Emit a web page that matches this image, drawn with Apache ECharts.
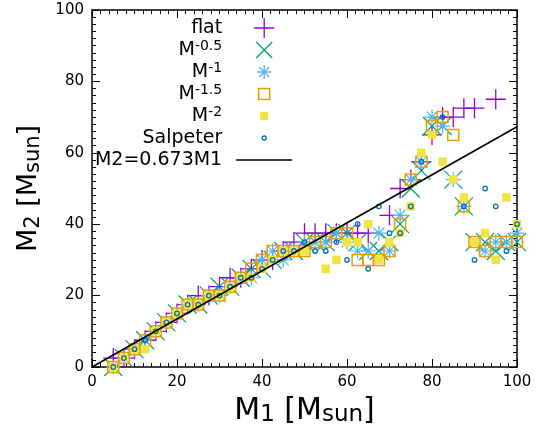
<!DOCTYPE html>
<html>
<head>
<meta charset="utf-8">
<script src="https://cdn.jsdelivr.net/npm/echarts@6/dist/echarts.min.js"></script>
<style>html,body{margin:0;padding:0;background:#fff}#c{width:543px;height:432px}</style>
</head>
<body>
<div id="c"></div>
<script>
// binned M1 values (x)
var xBins = [5,7.5,10,12.5,15,17.5,20,22.5,25,27.5,30,32.5,35,37.5,40,42.5,45,47.5,50,
             52.5,55,57.5,60,62.5,65,67.5,70,72.5,75,77.5,80,82.5,85,87.5,90,92.5,95,97.5,100];
// M2 values per series (null = no point)
var yFlat  = [2.5,2.5,5,7.5,10,12.5,15,17.5,20,20,22.5,25,25,27.5,30,30,32.5,35,37.5,
              37.5,37.5,37.5,37.5,37.5,37.5,null,42.5,50,52.5,57.5,65,70,70,72.5,72.5,null,75,null,null];
var yM05   = [0,2.5,5,7.5,10,12.5,15,17.5,17.5,20,22.5,22.5,25,27.5,27.5,30,32.5,32.5,35,
              35,35,37.5,37.5,35,32.5,32.5,35,40,50,55,67.5,67.5,52.5,45,35,35,32.5,35,35];
var yM1    = [0,2.5,5,7.5,10,12.5,15,17.5,17.5,20,20,22.5,25,25,30,32.5,30,32.5,35,
              35,35,37.5,35,32.5,32.5,37.5,32.5,42.5,52.5,57.5,70,67.5,52.5,45,null,32.5,35,35,37.5];
var yM15   = [0,2.5,5,7.5,10,12.5,15,17.5,17.5,20,20,22.5,25,27.5,30,32.5,32.5,32.5,32.5,
              35,35,37.5,37.5,30,30,30,32.5,40,52.5,57.5,67.5,70,65,45,35,32.5,35,35,35];
var yM2    = [0,2.5,5,5,10,12.5,15,17.5,17.5,20,20,22.5,25,25,27.5,30,32.5,32.5,32.5,
              null,27.5,30,35,35,40,30,35,37.5,45,60,65,57.5,52.5,47.5,35,37.5,30,47.5,40];
var ySalp  = [0,2.5,5,7.5,10,12.5,15,17.5,17.5,20,20,22.5,25,25,27.5,30,32.5,32.5,35,
              32.5,32.5,35,30,40,27.5,45,37.5,37.5,45,57.5,null,70,null,45,30,50,45,32.5,40];
// fit line M2 = 0.673 M1
var fitSlope = 0.673;
var fitX = [0, 100];

function pts(ys){ var o=[]; for(var i=0;i<xBins.length;i++){ if(ys[i]!==null) o.push([xBins[i], ys[i]]); } return o; }

var P_PLUS = 'path://M-1,0L1,0M0,-1L0,1';
var P_X = 'path://M-1,-1L1,1M-1,1L1,-1';
var P_STAR = 'path://M-1,0L1,0M0,-1L0,1M-0.72,-0.72L0.72,0.72M-0.72,0.72L0.72,-0.72';
var P_SQ = 'path://M-1,-1L1,-1L1,1L-1,1Z';
var P_CIRC = 'path://M1,0A1,1 0 1 1 -1,0A1,1 0 1 1 1,0Z';
// legend icons (padded to the icon box)
var L_PLUS = 'path://M-10,0L10,0M0,-10L0,10';
var L_X = 'path://M-10,-10M10,10M-8,-8L8,8M-8,8L8,-8';
var L_STAR = 'path://M-10,-10M10,10M-7,0L7,0M0,-7L0,7M-5,-5L5,5M-5,5L5,-5';
var L_SQ = 'path://M-10,-10M10,10M-5.5,-5.5L5.5,-5.5L5.5,5.5L-5.5,5.5Z';
var L_FSQ = 'path://M-10,-10M10,10M-4,-4L4,-4L4,4L-4,4Z';
var L_CIRC = 'path://M-10,-10M10,10M2,0A2,2 0 1 1 -2,0A2,2 0 1 1 2,0Z';
var L_LINE = 'path://M0,-10M56,10M0,0L56,0';

var C = {flat:'#9400d3', m05:'#009e73', m1:'#56b4e9', m15:'#e69f00', m2:'#f0e442', salp:'#0072b2'};
var TR = 'rgba(0,0,0,0)';

function scat(name, ys, sym, size, color, bw, filled){
  return {type:'scatter', name:name, data:pts(ys), symbol:sym, symbolSize:size, clip:false, silent:true,
    itemStyle:{color: filled?color:TR, borderColor: filled?TR:color, borderWidth: filled?0:bw, opacity:1},
    emphasis:{disabled:true}};
}

var fontT = 'DejaVu Sans';
var tickCommon = {inside:true, length:8, lineStyle:{color:'#000', width:1}};
var minorCommon = {show:true, splitNumber:10, length:4, lineStyle:{color:'#000', width:1}};
var lineCommon = {show:true, onZero:false, lineStyle:{color:'#000', width:1.5}};

var nameMap = {'flat':'flat','M-0.5':'M{sup|-0.5}','M-1':'M{sup|-1}','M-1.5':'M{sup|-1.5}','M-2':'M{sup|-2}','Salpeter':'Salpeter','M2=0.673M1':'M2=0.673M1'};

var option = {
  backgroundColor:'#fff',
  animation:false,
  grid:{left:92, right:26, top:10, bottom:65},
  xAxis:[
    {type:'value', min:0, max:100, interval:20, position:'bottom',
     axisLine:lineCommon, axisTick:tickCommon, minorTick:minorCommon, splitLine:{show:false},
     axisLabel:{fontFamily:fontT, fontSize:15, color:'#000', margin:8},
     name:'M{sub|1} [M{sub|sun}]', nameLocation:'middle', nameGap:26,
     nameTextStyle:{fontFamily:fontT, fontSize:30, color:'#000', lineHeight:32, verticalAlign:'top',
       rich:{sub:{fontFamily:fontT, fontSize:23, color:'#000', lineHeight:26, verticalAlign:'bottom'}}}},
    {type:'value', min:0, max:100, interval:20, position:'top',
     axisLine:lineCommon, axisTick:tickCommon, minorTick:minorCommon, splitLine:{show:false},
     axisLabel:{show:false}}
  ],
  yAxis:[
    {type:'value', min:0, max:100, interval:20, position:'left',
     axisLine:lineCommon, axisTick:tickCommon, minorTick:minorCommon, splitLine:{show:false},
     axisLabel:{fontFamily:fontT, fontSize:15, color:'#000', margin:8},
     name:'M{sub|2} [M{sub|sun}]', nameLocation:'middle', nameGap:42, nameRotate:90,
     nameTextStyle:{fontFamily:fontT, fontSize:27, color:'#000', lineHeight:30,
       rich:{sub:{fontFamily:fontT, fontSize:21, color:'#000', lineHeight:24, verticalAlign:'bottom'}}}},
    {type:'value', min:0, max:100, interval:20, position:'right',
     axisLine:lineCommon, axisTick:tickCommon, minorTick:minorCommon, splitLine:{show:false},
     axisLabel:{show:false}}
  ],
  legend:{
    orient:'vertical', align:'right', right:250, top:17, padding:0,
    itemWidth:56, itemHeight:20, itemGap:0, selectedMode:false,
    formatter:function(n){return nameMap[n];},
    textStyle:{fontFamily:fontT, fontSize:19, color:'#000', lineHeight:22, padding:[0,9,0,0],
      rich:{sup:{fontFamily:fontT, fontSize:14, color:'#000', lineHeight:10, verticalAlign:'top'}}},
    data:[
      {name:'flat', icon:L_PLUS, itemStyle:{color:TR, borderColor:C.flat, borderWidth:1.3}},
      {name:'M-0.5', icon:L_X, itemStyle:{color:TR, borderColor:C.m05, borderWidth:1.3}},
      {name:'M-1', icon:L_STAR, itemStyle:{color:TR, borderColor:C.m1, borderWidth:1.3}},
      {name:'M-1.5', icon:L_SQ, itemStyle:{color:TR, borderColor:C.m15, borderWidth:1.5}},
      {name:'M-2', icon:L_FSQ, itemStyle:{color:C.m2, borderColor:TR, borderWidth:0}},
      {name:'Salpeter', icon:L_CIRC, itemStyle:{color:TR, borderColor:C.salp, borderWidth:1.3}},
      {name:'M2=0.673M1', icon:L_LINE, itemStyle:{color:TR, borderColor:'#000', borderWidth:1.6},
       lineStyle:{color:'#000', width:1.6}}
    ]
  },
  series:[
    scat('flat', yFlat, P_PLUS, 20, C.flat, 1.3, false),
    scat('M-0.5', yM05, P_X, 18, C.m05, 1.2, false),
    scat('M-1', yM1, P_STAR, 15, C.m1, 1.2, false),
    scat('M-1.5', yM15, P_SQ, 11, C.m15, 1.5, false),
    scat('M-2', yM2, P_SQ, 8.5, C.m2, 0, true),
    scat('Salpeter', ySalp, P_CIRC, 4.5, C.salp, 1.3, false),
    {type:'line', name:'M2=0.673M1', data:fitX.map(function(x){return [x, fitSlope*x];}),
     symbol:'none', showSymbol:false, silent:true, lineStyle:{color:'#000', width:1.6}, itemStyle:{color:'#000'},
     emphasis:{disabled:true}}
  ]
};
var chart = echarts.init(document.getElementById('c'), null, {renderer:'canvas'});
chart.setOption(option);
</script>
</body>
</html>
